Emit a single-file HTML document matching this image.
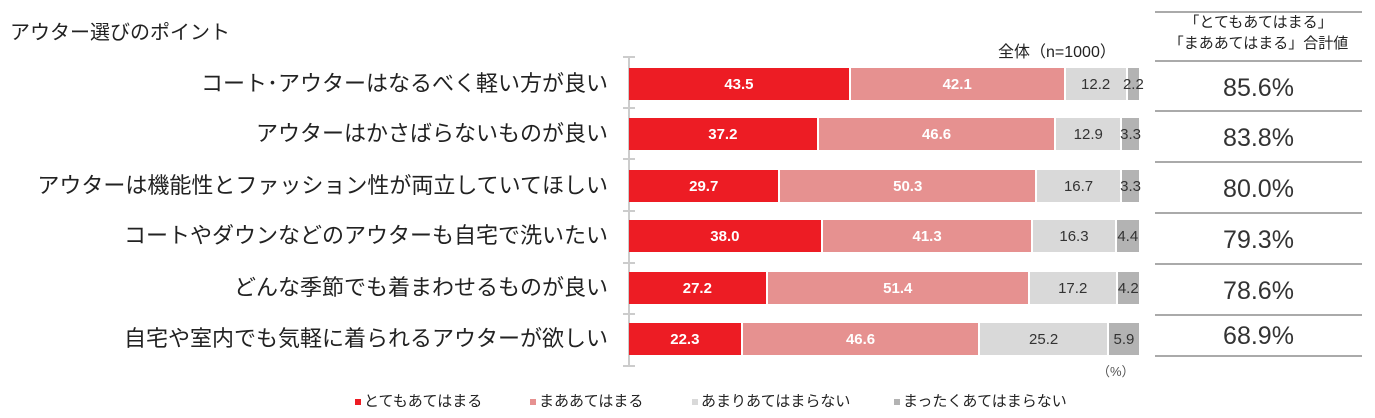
<!DOCTYPE html>
<html><head><meta charset="utf-8"><style>
body{margin:0;width:1375px;height:418px;background:#fff;position:relative;overflow:hidden;font-family:"Liberation Sans","Noto Sans CJK JP",sans-serif;color:#222}
.a{position:absolute;white-space:nowrap}
.lab{right:767px;font-size:22px;line-height:32px}
.bar{position:absolute;left:629px;height:32px;display:flex;width:510px}
.bar div{height:100%;display:flex;align-items:center;justify-content:center;font-size:15px;box-sizing:border-box;border-right:2px solid #fff;overflow:visible}
.c1{background:#ed1c24;color:#fff;font-weight:bold}
.c2{background:#e69190;color:#fff;font-weight:bold}
.c3{background:#d9d9d9;color:#333}
.c4{background:#b3b3b3;color:#333;border-right:none!important}
.pct{left:1155px;width:207px;text-align:center;font-size:25px;line-height:32px;color:#333}
.hl{position:absolute;left:1155px;width:207px;height:2px;background:#aaa}
.tk{position:absolute;left:623px;width:12px;height:2px;background:#ccc}
.lg{font-size:15px;top:390px}
.sq{display:inline-block;width:6px;height:6px;margin-right:3px;vertical-align:middle}
</style></head><body>
<div class="a" style="left:10px;top:16px;font-size:20px">アウター選びのポイント</div>
<div class="a" style="left:998px;top:38px;font-size:16px">全体（n=1000）</div>
<div class="a" style="left:1155px;width:207px;top:12px;text-align:center;font-size:15px;line-height:21px">「とてもあてはまる」<br>「まああてはまる」合計値</div>
<div class="hl" style="top:11px"></div>
<div style="position:absolute;left:628px;top:56px;width:2px;height:310px;background:#ccc"></div>
<div class="tk" style="top:56px"></div><div class="tk" style="top:107px"></div><div class="tk" style="top:158px"></div><div class="tk" style="top:210px"></div><div class="tk" style="top:262px"></div><div class="tk" style="top:313px"></div><div class="tk" style="top:365px"></div>

<div class="a lab" style="top:68px">コート･アウターはなるべく軽い方が良い</div>
<div class="bar" style="top:68px"><div class="c1" style="width:43.5%">43.5</div><div class="c2" style="width:42.1%">42.1</div><div class="c3" style="width:12.2%">12.2</div><div class="c4" style="width:2.2%">2.2</div></div>
<div class="hl" style="top:60px"></div><div class="a pct" style="top:72px">85.6%</div>

<div class="a lab" style="top:118px">アウターはかさばらないものが良い</div>
<div class="bar" style="top:118px"><div class="c1" style="width:37.2%">37.2</div><div class="c2" style="width:46.6%">46.6</div><div class="c3" style="width:12.9%">12.9</div><div class="c4" style="width:3.3%">3.3</div></div>
<div class="hl" style="top:110px"></div><div class="a pct" style="top:122px">83.8%</div>

<div class="a lab" style="top:170px">アウターは機能性とファッション性が両立していてほしい</div>
<div class="bar" style="top:170px"><div class="c1" style="width:29.7%">29.7</div><div class="c2" style="width:50.3%">50.3</div><div class="c3" style="width:16.7%">16.7</div><div class="c4" style="width:3.3%">3.3</div></div>
<div class="hl" style="top:161px"></div><div class="a pct" style="top:173px">80.0%</div>

<div class="a lab" style="top:220px">コートやダウンなどのアウターも自宅で洗いたい</div>
<div class="bar" style="top:220px"><div class="c1" style="width:38.0%">38.0</div><div class="c2" style="width:41.3%">41.3</div><div class="c3" style="width:16.3%">16.3</div><div class="c4" style="width:4.4%">4.4</div></div>
<div class="hl" style="top:212px"></div><div class="a pct" style="top:224px">79.3%</div>

<div class="a lab" style="top:272px">どんな季節でも着まわせるものが良い</div>
<div class="bar" style="top:272px"><div class="c1" style="width:27.2%">27.2</div><div class="c2" style="width:51.4%">51.4</div><div class="c3" style="width:17.2%">17.2</div><div class="c4" style="width:4.2%">4.2</div></div>
<div class="hl" style="top:263px"></div><div class="a pct" style="top:275px">78.6%</div>

<div class="a lab" style="top:323px">自宅や室内でも気軽に着られるアウターが欲しい</div>
<div class="bar" style="top:323px"><div class="c1" style="width:22.3%">22.3</div><div class="c2" style="width:46.6%">46.6</div><div class="c3" style="width:25.2%">25.2</div><div class="c4" style="width:5.9%">5.9</div></div>
<div class="hl" style="top:314px"></div><div class="a pct" style="top:320px">68.9%</div>
<div class="hl" style="top:355px"></div>

<div class="a" style="left:1097px;top:361px;font-size:13px;color:#555">（%）</div>
<div class="a lg" style="left:355px"><span class="sq" style="background:#ed1c24"></span>とてもあてはまる</div>
<div class="a lg" style="left:530px"><span class="sq" style="background:#e69190"></span>まああてはまる</div>
<div class="a lg" style="left:692px"><span class="sq" style="background:#d9d9d9"></span>あまりあてはまらない</div>
<div class="a lg" style="left:894px"><span class="sq" style="background:#b3b3b3"></span>まったくあてはまらない</div>
</body></html>
